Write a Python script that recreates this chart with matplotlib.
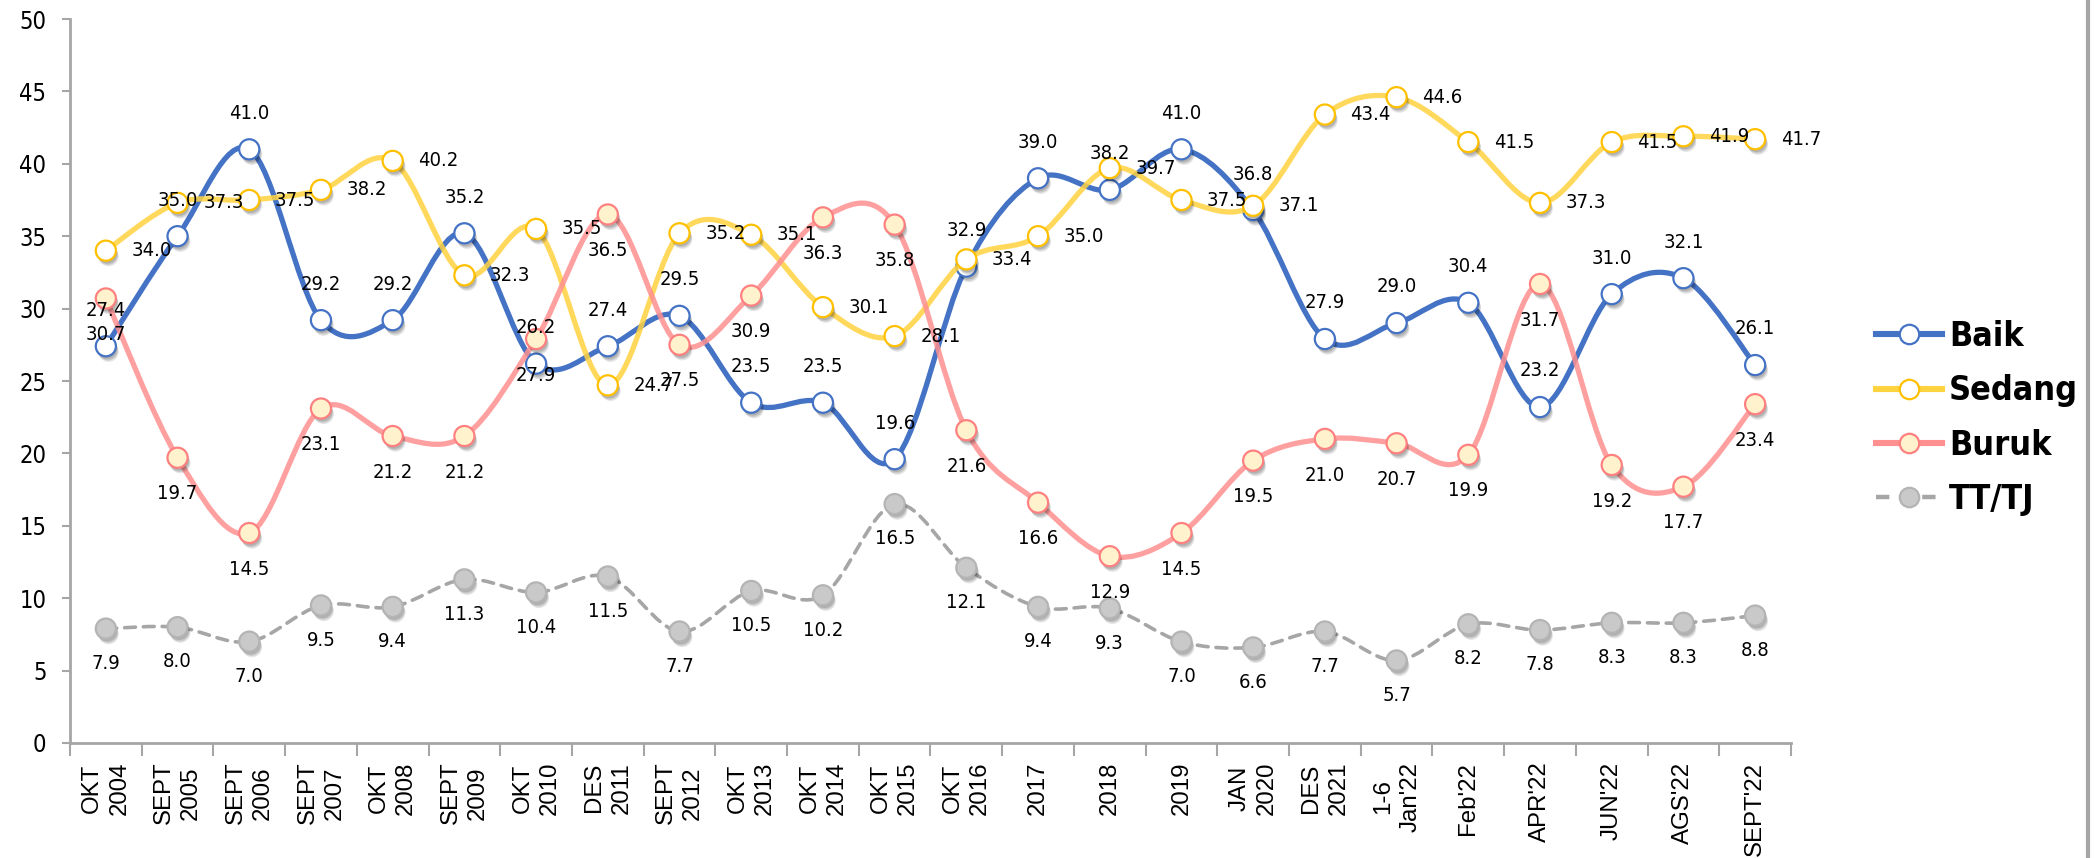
import numpy as np
import matplotlib
matplotlib.use("Agg")
import matplotlib.pyplot as plt
from matplotlib.path import Path
from matplotlib.patches import PathPatch
from matplotlib.lines import Line2D
from matplotlib import patheffects as pe
from matplotlib import font_manager as fm

# data
categories = ["OKT\n2004", "SEPT\n2005", "SEPT\n2006", "SEPT\n2007", "OKT\n2008",
              "SEPT\n2009", "OKT\n2010", "DES\n2011", "SEPT\n2012", "OKT\n2013",
              "OKT\n2014", "OKT\n2015", "OKT\n2016", "2017", "2018", "2019",
              "JAN\n2020", "DES\n2021", "1-6\nJan'22", "Feb'22", "APR'22",
              "JUN'22", "AGS'22", "SEPT'22"]
baik = [27.4, 35.0, 41.0, 29.2, 29.2, 35.2, 26.2, 27.4, 29.5, 23.5, 23.5, 19.6,
        32.9, 39.0, 38.2, 41.0, 36.8, 27.9, 29.0, 30.4, 23.2, 31.0, 32.1, 26.1]
sedang = [34.0, 37.3, 37.5, 38.2, 40.2, 32.3, 35.5, 24.7, 35.2, 35.1, 30.1, 28.1,
          33.4, 35.0, 39.7, 37.5, 37.1, 43.4, 44.6, 41.5, 37.3, 41.5, 41.9, 41.7]
buruk = [30.7, 19.7, 14.5, 23.1, 21.2, 21.2, 27.9, 36.5, 27.5, 30.9, 36.3, 35.8,
         21.6, 16.6, 12.9, 14.5, 19.5, 21.0, 20.7, 19.9, 31.7, 19.2, 17.7, 23.4]
tttj = [7.9, 8.0, 7.0, 9.5, 9.4, 11.3, 10.4, 11.5, 7.7, 10.5, 10.2, 16.5,
        12.1, 9.4, 9.3, 7.0, 6.6, 7.7, 5.7, 8.2, 7.8, 8.3, 8.3, 8.8]
series_names = ["Baik", "Sedang", "Buruk", "TT/TJ"]


# Tahoma-like font: DejaVu Sans Condensed if it is there, else Liberation Sans
def find_file(stem):
    for f in fm.fontManager.ttflist:
        if f.fname.endswith(stem):
            return f.fname
    return None


cond = find_file("DejaVuSansCondensed.ttf")
cond_bold = find_file("DejaVuSansCondensed-Bold.ttf")


def num_font(size):
    if cond:
        return fm.FontProperties(fname=cond, size=size)
    return fm.FontProperties(family="Liberation Sans", size=size * 0.98)


def bold_font(size):
    if cond_bold:
        return fm.FontProperties(fname=cond_bold, size=size)
    return fm.FontProperties(family="Liberation Sans", weight="bold", size=size)


def smooth_path(x, y):
    # bezier curve through the points, like the "smoothed line" option
    verts = [(x[0], y[0])]
    codes = [Path.MOVETO]
    n = len(x)
    for i in range(n - 1):
        a = max(i - 1, 0)
        b = min(i + 2, n - 1)
        c1 = (x[i] + (x[i + 1] - x[a]) / 6, y[i] + (y[i + 1] - y[a]) / 6)
        c2 = (x[i + 1] - (x[b] - x[i]) / 6, y[i + 1] - (y[b] - y[i]) / 6)
        verts += [c1, c2, (x[i + 1], y[i + 1])]
        codes += [Path.CURVE4] * 3
    return Path(verts, codes)


fig = plt.figure(figsize=(20.96, 8.58), dpi=100)
ax = fig.add_axes([70 / 2096, 1 - 743 / 858, (1791 - 70) / 2096, (743 - 19) / 858])

x = np.arange(len(categories))
grey = "#A6A6A6"

styles = {
    "Baik":   dict(data=baik, color="#4472C4", mfc="white", mec="#4472C4", lw=3.8,
                   ls="-", alpha=1.0, off=(0, 26), z=4),
    "Sedang": dict(data=sedang, color="#FFD23F", mfc="white", mec="#FFC000", lw=3.8,
                   ls="-", alpha=0.85, off=(33, 0), z=5),
    "Buruk":  dict(data=buruk, color="#FF9090", mfc="#FFF2CC", mec="#FF8080", lw=3.8,
                   ls="-", alpha=0.85, off=(0, -26), z=6),
    "TT/TJ":  dict(data=tttj, color="#A6A6A6", mfc="#C9C9C9", mec="#B4B4B4", lw=2.6,
                   ls=(0, (3, 2.2)), alpha=1.0, off=(0, -25), z=3),
}

shadow = [pe.SimplePatchShadow(offset=(2.0, -4.0), shadow_rgbFace="black", alpha=0.1),
          pe.SimplePatchShadow(offset=(1.5, -3.0), shadow_rgbFace="black", alpha=0.12),
          pe.SimplePatchShadow(offset=(1.0, -2.0), shadow_rgbFace="black", alpha=0.12),
          pe.Normal()]

handles = []
for name in series_names:
    s = styles[name]
    patch = PathPatch(smooth_path(x, s["data"]), fill=False, edgecolor=s["color"],
                      lw=s["lw"], linestyle=s["ls"], alpha=s["alpha"],
                      capstyle="round", joinstyle="round", zorder=s["z"])
    ax.add_patch(patch)
    ax.plot(x, s["data"], ls="none", marker="o", ms=14.5, mfc=s["mfc"], mec=s["mec"],
            mew=1.6, zorder=s["z"] + 0.5, path_effects=shadow)
    for xi, v in zip(x, s["data"]):
        ax.annotate(f"{v:.1f}", (xi, v), xytext=s["off"], textcoords="offset points",
                    ha="center", va="center", fontproperties=num_font(14.5),
                    zorder=10)
    handles.append(Line2D([], [], color=s["color"], lw=s["lw"] + 0.6, ls=s["ls"],
                          marker="o", ms=14, mfc=s["mfc"], mec=s["mec"], mew=1.6))

ax.set_xlim(-0.5, len(categories) - 0.5)
ax.set_ylim(0, 50)

# category boundaries get tick marks, names sit in the middle
ax.set_xticks(np.arange(-0.5, len(categories), 1))
ax.set_xticklabels([])
ax.set_xticks(x, minor=True)
ax.set_xticklabels(categories, minor=True, rotation=90, family="Liberation Sans",
                   fontsize=17.3)
for lab in ax.get_xticklabels(minor=True):
    lab.set_multialignment("center")
    lab.set_linespacing(1.3)
ax.tick_params(axis="x", which="major", length=9, width=1.5, color=grey)
ax.tick_params(axis="x", which="minor", length=0, pad=13.5)

ax.set_yticks(range(0, 51, 5))
for lab in ax.get_yticklabels():
    lab.set_fontproperties(num_font(17))
ax.tick_params(axis="y", length=6, width=1.5, color=grey, pad=11)

for side in ["top", "right"]:
    ax.spines[side].set_visible(False)
for side in ["left", "bottom"]:
    ax.spines[side].set_color(grey)
    ax.spines[side].set_linewidth(2)

fig.legend(handles, series_names, loc="upper left",
           bbox_to_anchor=(1876 / 2096, 1 - 320 / 858), frameon=False,
           prop=bold_font(24.5), handlelength=1.95, handletextpad=0.2,
           labelspacing=0.63, borderpad=0, borderaxespad=0)

# grey frame edge on the right
fig.add_artist(Line2D([2088 / 2096] * 2, [0, 1], transform=fig.transFigure,
                      color=grey, lw=3))

fig.savefig("out.png", dpi=100)
